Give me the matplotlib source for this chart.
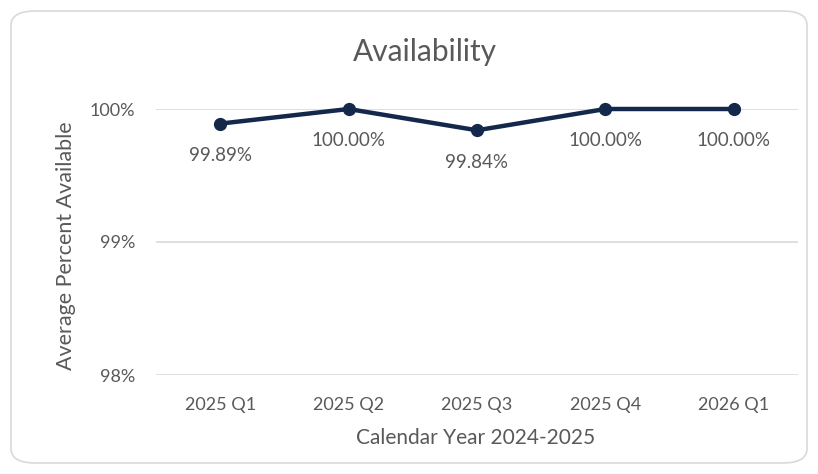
import matplotlib as mpl
mpl.use("Agg")
import matplotlib.pyplot as plt
from matplotlib.patches import FancyBboxPatch
from matplotlib.ticker import FuncFormatter

plt.rcParams["font.family"] = ["Lato", "DejaVu Sans"]

quarters = ["2025 Q1", "2025 Q2", "2025 Q3", "2025 Q4", "2026 Q1"]
availability = [99.89, 100.00, 99.84, 100.00, 100.00]
y_ticks = [98, 99, 100]

navy = "#14284b"
text_grey = "#595959"
grid_grey = "#d9d9d9"

fig = plt.figure(figsize=(8.18, 4.74), dpi=100)
ax = fig.add_axes([156 / 818, 1 - 375 / 474, 642 / 818, 266 / 474])

# rounded chart border
border = FancyBboxPatch(
    (11 / 818, 11 / 474), 796 / 818, 452 / 474,
    boxstyle="round,pad=0,rounding_size=0.03",
    transform=fig.transFigure, facecolor="white", edgecolor=grid_grey,
    linewidth=1.2, zorder=-1,
)
fig.patches.append(border)

x = list(range(len(quarters)))
ax.plot(x, availability, color=navy, linewidth=3.2, marker="o", markersize=8.5, zorder=3, clip_on=False)

for xi, v in zip(x, availability):
    ax.annotate(f"{v:.2f}%", xy=(xi, v), xytext=(0, -23), textcoords="offset points",
                ha="center", va="center", fontsize=13.5, color=text_grey)

ax.set_xlim(-0.5, len(quarters) - 0.5)
ax.set_ylim(98, 100)
ax.set_yticks(y_ticks)
ax.yaxis.set_major_formatter(FuncFormatter(lambda v, p: f"{v:.0f}%"))
ax.set_xticks(x)
ax.set_xticklabels(quarters)
ax.tick_params(axis="both", length=0, labelsize=13, colors=text_grey)
ax.tick_params(axis="x", pad=16)
ax.tick_params(axis="y", pad=15)
ax.grid(axis="y", color=grid_grey, linewidth=1.2)
ax.set_axisbelow(True)
for s in ax.spines.values():
    s.set_visible(False)
ax.patch.set_alpha(0)

fig.text(425 / 818, 1 - 52 / 474, "Availability", ha="center", va="center", fontsize=21.5, color=text_grey)
fig.text(476 / 818, 1 - 438 / 474, "Calendar Year 2024-2025", ha="center", va="center", fontsize=15, color=text_grey)
fig.text(66 / 818, 1 - 246 / 474, "Average Percent Available", ha="center", va="center", rotation=90,
         fontsize=15.5, color=text_grey)

fig.savefig("out.png", dpi=100)
